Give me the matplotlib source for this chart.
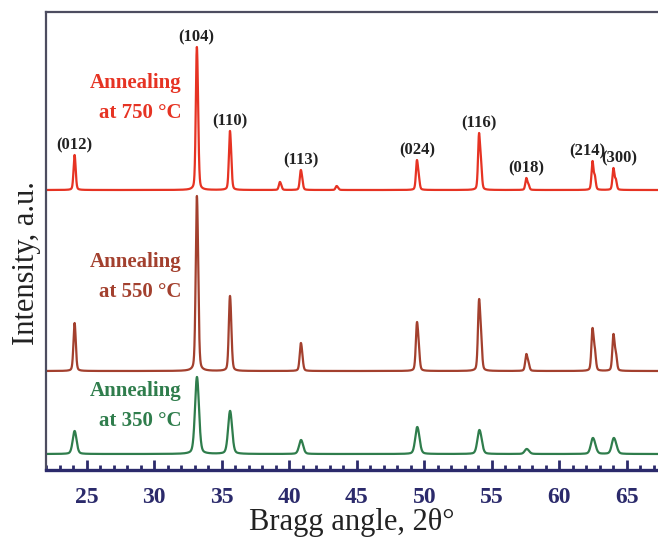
import numpy as np
import matplotlib
matplotlib.use("Agg")
import matplotlib.pyplot as plt
from matplotlib.ticker import MultipleLocator

# Hematite reflections (2theta, degrees) and Miller indices
hkl = ["(012)", "(104)", "(110)", "(113)", "(024)", "(116)", "(018)", "(214)", "(300)"]
two_theta = [24.1, 33.15, 35.6, 40.85, 49.45, 54.05, 57.55, 62.45, 64.0]

# Peak heights above background (a.u.) for each annealing temperature
heights_750 = [35, 143, 59, 20, 30, 57, 12, 29, 22]
heights_550 = [48, 175, 75, 28, 49, 72, 17, 43, 37]
heights_350 = [23, 77, 43, 14, 27, 24, 5, 16, 16]

# Weak extra reflections seen only in the 750 C pattern
minor_750_pos = [39.3, 43.5]
minor_750_h = [8, 4]

# Vertical offsets (background level) of each pattern
offset_750 = 280
offset_550 = 99
offset_350 = 16

# Peak widths (FWHM, degrees)
fwhm_750 = 0.17
fwhm_550 = 0.19
fwhm_350 = 0.33

labels = ["Annealing\nat 750 °C", "Annealing\nat 550 °C", "Annealing\nat 350 °C"]
colors = ["#e63323", "#a3402e", "#2f7d4c"]

x_ticks_major = [25, 30, 35, 40, 45, 50, 55, 60, 65]


def pseudo_voigt(x, x0, w, eta=0.3):
    g = np.exp(-4 * np.log(2) * ((x - x0) / w) ** 2)
    l = 1.0 / (1.0 + 4 * ((x - x0) / w) ** 2)
    return eta * l + (1 - eta) * g


def pattern(x, pos, hts, w, base):
    y = np.full_like(x, float(base))
    for p, h in zip(pos, hts):
        # Cu K-alpha doublet: K-alpha2 at slightly higher angle, ~half intensity
        th = np.radians(p / 2)
        d2 = np.degrees(2 * np.tan(th) * 0.00248)
        prof = pseudo_voigt(x, p, w) + 0.45 * pseudo_voigt(x, p + d2, w)
        y += h * prof / prof.max()
    return y


x = np.linspace(22, 67.3, 8000)
y750 = pattern(x, two_theta + minor_750_pos, heights_750 + minor_750_h, fwhm_750, offset_750)
y550 = pattern(x, two_theta, heights_550, fwhm_550, offset_550)
y350 = pattern(x, two_theta, heights_350, fwhm_350, offset_350)

fig = plt.figure(figsize=(6.58, 5.43), dpi=100)
ax = fig.add_axes([46 / 658, (543 - 470) / 543, 1 - 46 / 658, (470 - 12) / 543])

for y, c in zip([y750, y550, y350], colors):
    ax.plot(x, y, color=c, lw=1.6)

ax.set_xlim(22, 67.3)
ax.set_ylim(0, 458)

serif = ["Liberation Serif", "DejaVu Serif"]
navy = "#2b2a6b"

# Miller index labels above the 750 C peaks
dx = {"(214)": -0.4, "(300)": 0.4}
for name, p, h in zip(hkl, two_theta, heights_750):
    ax.text(p + dx.get(name, 0), offset_750 + h + 1.5, name, ha="center", va="bottom",
            fontsize=12, fontweight="bold", family=serif, color="#222222")

# Annealing temperature captions
for lab, c, yc in zip(labels, colors, [372, 193, 64]):
    ax.text(32.0, yc, lab, ha="right", va="center", multialignment="right",
            fontsize=15, fontweight="bold", family=serif, color=c, linespacing=1.7)

ax.xaxis.set_major_locator(MultipleLocator(5))
ax.xaxis.set_minor_locator(MultipleLocator(1))
ax.set_xticks(x_ticks_major)
ax.set_yticks([])
ax.tick_params(axis="x", which="major", direction="in", length=7, width=2, color=navy,
               labelsize=17, labelcolor=navy, pad=12)
ax.tick_params(axis="x", which="minor", direction="in", length=3.5, width=2, color=navy)
for t in ax.get_xticklabels():
    t.set_fontfamily(serif)
    t.set_fontweight("bold")

ax.spines["bottom"].set_color(navy)
ax.spines["bottom"].set_linewidth(2.4)
for s in ["left", "top"]:
    ax.spines[s].set_color("#4d4d60")
    ax.spines[s].set_linewidth(1.6)
ax.spines["right"].set_visible(False)

ax.set_xlabel("Bragg angle, 2θ°", fontsize=22, family=serif, color="#222222", labelpad=0)
ax.set_ylabel("Intensity, a.u.", fontsize=22, family=serif, color="#222222")
ax.yaxis.set_label_coords(-0.008, 0.452)

fig.savefig("out.png", dpi=100)
